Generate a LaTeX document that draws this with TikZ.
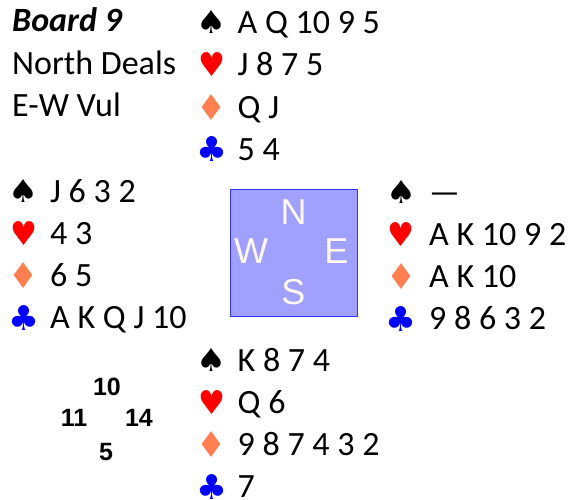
\documentclass[tikz,border=0pt]{standalone}
\usepackage{graphicx}
\usepackage{fontspec}
\setmainfont{Carlito}
\newfontfamily\suitfont{DejaVu Sans}
\newfontfamily\seatfont{Liberation Sans}
\usetikzlibrary{positioning}
\definecolor{heartred}{RGB}{255,0,0}
\definecolor{diamcoral}{RGB}{255,127,80}
\definecolor{clubblue}{RGB}{0,0,255}
\definecolor{tablefill}{RGB}{160,160,255}
\definecolor{tableline}{RGB}{50,50,255}
\definecolor{seatwhite}{RGB}{255,248,240}
\newcommand{\spadesym}{\resizebox{30pt}{23pt}{\suitfont ♠}}
\newcommand{\heartsym}{\resizebox{27pt}{24pt}{\suitfont ♥}}
\newcommand{\diamsym}{\resizebox{30pt}{26pt}{\suitfont ♦}}
\newcommand{\clubsym}{\resizebox{31pt}{25pt}{\suitfont ♣}}

\begin{document}
\begin{tikzpicture}[
            x=1pt,y=-1pt,
            every node/.style={on grid,inner sep=0pt},
            node distance=42.3pt,
            heart/.style={text=heartred},
            diam/.style={text=diamcoral},
            club/.style={text=clubblue},
            cards/.style={font=\fontsize{34}{34}\selectfont,text height=22pt,text depth=0pt,anchor=west},
            info/.style={cards},
            seat/.style={font=\seatfont\fontsize{36}{36}\selectfont,text=seatwhite,text height=26pt,text depth=0pt},
            hcp/.style={font=\seatfont\bfseries\fontsize{25}{25}\selectfont,text height=18pt,text depth=0pt}
        ]
        \useasboundingbox (0,0) rectangle (570,500);

        % Deal info %
        \node[info,font=\bfseries\itshape\fontsize{34}{34}\selectfont] (board) at (12,21) {Board 9};
        \node[info,below = of board.west,anchor=west] (dealer) {North Deals};
        \node[info,below = of dealer.west,anchor=west] (vul) {E-W Vul};

        % Draw North %
        \node (ns) at (211.5,22.5) {\spadesym};
        \node[heart,below = of ns] (nh) {\heartsym};
        \node[diam,below = of nh] (nd) {\diamsym};
        \node[club,below = of nd] (nc) {\clubsym};
        \node[cards,right=26pt of ns,anchor=west] (nsc) {A Q 10 9 5};
        \node[cards,right=26pt of nh,anchor=west] (nhc) {J 8 7 5};
        \node[cards,right=26pt of nd,anchor=west] (ndc) {Q J};
        \node[cards,right=26pt of nc,anchor=west] (ncc) {5 4};

        % Draw West %
        \node (ws) at (24,191) {\spadesym};
        \node[heart,below = of ws] (wh) {\heartsym};
        \node[diam,below = of wh] (wd) {\diamsym};
        \node[club,below = of wd] (wc) {\clubsym};
        \node[cards,right=26pt of ws,anchor=west] (wsc) {J 6 3 2};
        \node[cards,right=26pt of wh,anchor=west] (whc) {4 3};
        \node[cards,right=26pt of wd,anchor=west] (wdc) {6 5};
        \node[cards,right=26pt of wc,anchor=west] (wcc) {A K Q J 10};

        % Draw East %
        \node (es) at (401,192) {\spadesym};
        \node[heart,below = of es] (eh) {\heartsym};
        \node[diam,below = of eh] (ed) {\diamsym};
        \node[club,below = of ed] (ec) {\clubsym};
        \node[cards,right=28pt of es,anchor=west] (esc) {—};
        \node[cards,right=28pt of eh,anchor=west] (ehc) {A K 10 9 2};
        \node[cards,right=28pt of ed,anchor=west] (edc) {A K 10};
        \node[cards,right=28pt of ec,anchor=west] (ecc) {9 8 6 3 2};

        % Draw South %
        \node (ss) at (211.5,360) {\spadesym};
        \node[heart,below = of ss] (sh) {\heartsym};
        \node[diam,below = of sh] (sd) {\diamsym};
        \node[club,below = of sd] (sc) {\clubsym};
        \node[cards,right=26pt of ss,anchor=west] (ssc) {K 8 7 4};
        \node[cards,right=26pt of sh,anchor=west] (shc) {Q 6};
        \node[cards,right=26pt of sd,anchor=west] (sdc) {9 8 7 4 3 2};
        \node[cards,right=26pt of sc,anchor=west] (scc) {7};

        % Draw table %
        \node[draw=tableline,fill=tablefill,line width=0.8pt,minimum width=127pt,minimum height=127pt] (table) at (293.5,252.5) {};
        \node[seat,above=41.5pt of table] (N) {N};
        \node[seat,below=38.5pt of table] (S) {S};
        \node[seat,left=42.5pt of table,yshift=2.5pt] (W) {W};
        \node[seat,right=43pt of table,yshift=2.5pt] (E) {E};

        % HCP %
        \node[hcp] (hn) at (107,386) {10};
        \node[hcp] (hw) at (74,417) {11};
        \node[hcp] (he) at (139,417) {14};
        \node[hcp] (hs) at (106,451) {5};
\end{tikzpicture}
\end{document}
